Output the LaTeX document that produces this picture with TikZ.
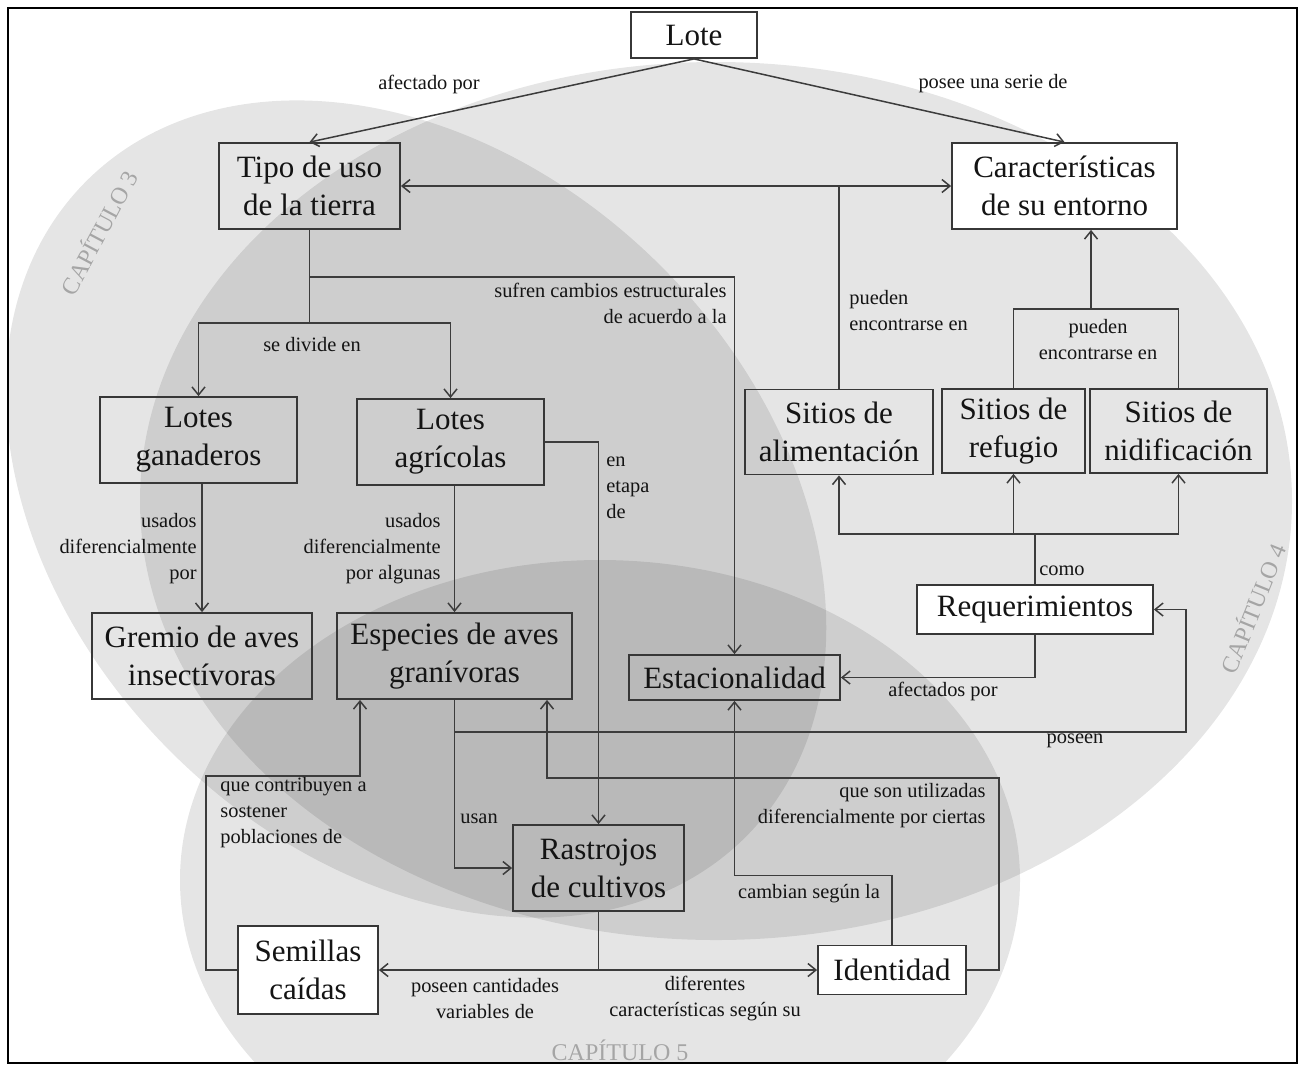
\documentclass[tikz,border=0pt]{standalone}
\usepackage{fontspec}
\setmainfont{Liberation Serif}
\usepackage{tikz}
\usetikzlibrary{positioning, calc, arrows.meta}
\definecolor{mdEdge}{RGB}{55,55,55}
\definecolor{mdLine}{RGB}{60,60,60}
\definecolor{mdText}{RGB}{20,20,20}
\definecolor{mdCap}{RGB}{165,165,165}
\tikzset{
    base/.style={
        align=center,
        text=mdText
    },
    concepto/.style={
        base,
        rectangle,
        draw=mdEdge,
        line width=0.9pt,
        inner sep=0pt,
        font=\fontsize{15.5}{19}\selectfont
    },
    blanco/.style={
        concepto,
        fill=white
    },
    flujo/.style={
        -{Straight Barb[length=4pt, width=6.5pt]},
        line width=0.75pt,
        color=mdLine
    },
    doble/.style={
        flujo,
        {Straight Barb[length=4pt, width=6.5pt]}-{Straight Barb[length=4pt, width=6.5pt]}
    },
    liga/.style={
        line width=0.75pt,
        color=mdLine
    },
    etiqueta/.style={
        base,
        font=\fontsize{10.2}{13}\selectfont,
        inner sep=0pt
    },
    capitulo/.style={
        font=\fontsize{12}{14}\selectfont,
        text=mdCap,
        inner sep=0pt
    },
    zona/.style={
        fill=black,
        fill opacity=0.1
    }
}

\begin{document}
\begin{tikzpicture}[x=0.5pt, y=-0.5pt]
    \useasboundingbox (0,0) rectangle (1304,1067);

    % Capitulos (fondo)
    \begin{scope}
        \clip (8,8) rectangle (1297,1063);
        \fill[zona, rotate around={-44.6:(416,509)}] (416,509) ellipse [x radius=465, y radius=345];
        \fill[zona] (716,501) ellipse [x radius=576, y radius=439];
        \fill[zona] (600,880) ellipse [x radius=420, y radius=320];
    \end{scope}
    \draw[line width=1.4pt] (8,8) rectangle (1297,1063);

    \node[capitulo, rotate=62] (cap3) at (98,232) {CAPÍTULO 3};
    \node[capitulo, rotate=68] (cap4) at (1252,608) {CAPÍTULO 4};
    \node[capitulo] (cap5) at (620,1050) {CAPÍTULO 5};

    % Conceptos
    \node[blanco, minimum width=63pt, minimum height=23pt] (lote) at (694,35) {Lote};
    \node[concepto, minimum width=90.5pt, minimum height=43pt] (tipo) at (309.5,186) {Tipo de uso\\de la tierra};
    \node[blanco, minimum width=112.5pt, minimum height=43pt] (carac) at (1064.5,186) {Características\\de su entorno};
    \node[concepto, minimum width=98.5pt, minimum height=43pt] (ganad) at (198.5,440) {Lotes\\ganaderos};
    \node[concepto, minimum width=93.5pt, minimum height=43pt] (agric) at (450.5,442) {Lotes\\agrícolas};
    \node[concepto, minimum width=94pt, minimum height=42.5pt] (alim) at (839,432) {Sitios de\\alimentación};
    \node[concepto, minimum width=71.5pt, minimum height=42pt] (refug) at (1013.5,431) {Sitios de\\refugio};
    \node[concepto, minimum width=88.5pt, minimum height=42pt] (nidif) at (1178.5,431) {Sitios de\\nidificación};
    \node[concepto, minimum width=110pt, minimum height=43pt] (gremio) at (202,656) {Gremio de aves\\insectívoras};
    \node[concepto, minimum width=117.5pt, minimum height=43pt] (especies) at (454.5,656) {Especies de aves\\granívoras};
    \node[concepto, minimum width=105.5pt, minimum height=22.5pt] (estac) at (734.5,677.5) {Estacionalidad};
    \node[blanco, minimum width=118pt, minimum height=24.5pt] (requer) at (1035,609.5) {Requerimientos};
    \node[concepto, minimum width=85.5pt, minimum height=43pt] (rastro) at (598.5,868) {Rastrojos\\de cultivos};
    \node[blanco, minimum width=70pt, minimum height=44pt] (semillas) at (308,970) {Semillas\\caídas};
    \node[blanco, minimum width=74pt, minimum height=24.5pt] (identidad) at (892,970) {Identidad};

    % Puntos de quiebre
    \coordinate (sufren) at (309.5,277);
    \coordinate (divide) at (309.5,323);
    \coordinate (nido) at (1091,309);
    \coordinate (como) at (1035,534);
    \coordinate (poseen) at (454.5,732);

    % Conectores
    \draw[flujo] (lote.south) -- (tipo.north);
    \draw[flujo] (lote.south) -- (carac.north);
    \draw[doble] (tipo.east) -- (carac.west);
    \draw[liga] (alim.north) -- (alim.north |- tipo.east);
    \draw[liga] (tipo.south) -- (divide);
    \draw[flujo] (divide) -| (ganad.north);
    \draw[flujo] (divide) -| (agric.north);
    \draw[flujo] (sufren) -| (estac.north);
    \draw[flujo] (agric.east) -| (rastro.north);
    \draw[flujo] (gremio.north |- ganad.south) -- (gremio.north);
    \draw[flujo] (especies.north |- agric.south) -- (especies.north);
    \draw[liga] (refug.north) |- (nido) -| (nidif.north);
    \draw[flujo] (nido) -- (nido |- carac.south);
    \draw[liga] (requer.north) -- (como);
    \draw[flujo] (como) -| (alim.south);
    \draw[flujo] (como) -| (refug.south);
    \draw[flujo] (como) -| (nidif.south);
    \draw[flujo] (requer.south) |- (estac.east);
    \draw[flujo] (especies.south) |- (rastro.west);
    \draw[flujo] (poseen) -| ($(requer.east)+(32,0)$) -- (requer.east);
    \draw[flujo] (identidad.east) -- ++(32,0) |- ($(especies.south)+(92.5,78)$) -- ($(especies.south)+(92.5,0)$);
    \draw[flujo] (identidad.north) -- ++(0,-69) -| (estac.south);
    \draw[flujo] (semillas.west) -- ++(-31,0) |- ($(especies.south)+(-94.5,76)$) -- ($(especies.south)+(-94.5,0)$);
    \draw[flujo] (rastro.south) |- (semillas.east);
    \draw[flujo] (rastro.south) |- (identidad.west);

    % Etiquetas
    \node[etiqueta] (lAfect) at (429,84) {afectado por};
    \node[etiqueta] (lPosee) at (993,84) {posee una serie de};
    \node[etiqueta, anchor=east, align=right] (lSufren) at (727,303) {sufren cambios estructurales\\de acuerdo a la};
    \node[etiqueta, anchor=west, align=left] (lPueden) at (849,311) {pueden\\encontrarse en};
    \node[etiqueta] (lDivide) at (312,345) {se divide en};
    \node[etiqueta] (lPueden2) at (1098,340) {pueden\\encontrarse en};
    \node[etiqueta, anchor=west, align=left] (lEtapa) at (606,488) {en\\etapa\\de};
    \node[etiqueta, anchor=east, align=right] (lUsados) at (197,549) {usados\\diferencialmente\\por};
    \node[etiqueta, anchor=east, align=right] (lUsados2) at (441,549) {usados\\diferencialmente\\por algunas};
    \node[etiqueta] (lComo) at (1062,571) {como};
    \node[etiqueta] (lAfectados) at (943,691) {afectados por};
    \node[etiqueta] (lPoseen) at (1075,741) {poseen};
    \node[etiqueta, anchor=west, align=left] (lContrib) at (220,813) {que contribuyen a\\sostener\\poblaciones de};
    \node[etiqueta] (lUsan) at (479,819) {usan};
    \node[etiqueta, anchor=east, align=right] (lUtil) at (986,806) {que son utilizadas\\diferencialmente por ciertas};
    \node[etiqueta] (lCambian) at (809,894) {cambian según la};
    \node[etiqueta] (lCantid) at (485,998) {poseen cantidades\\variables de};
    \node[etiqueta] (lDifer) at (705,998) {diferentes\\características según su};
\end{tikzpicture}
\end{document}
